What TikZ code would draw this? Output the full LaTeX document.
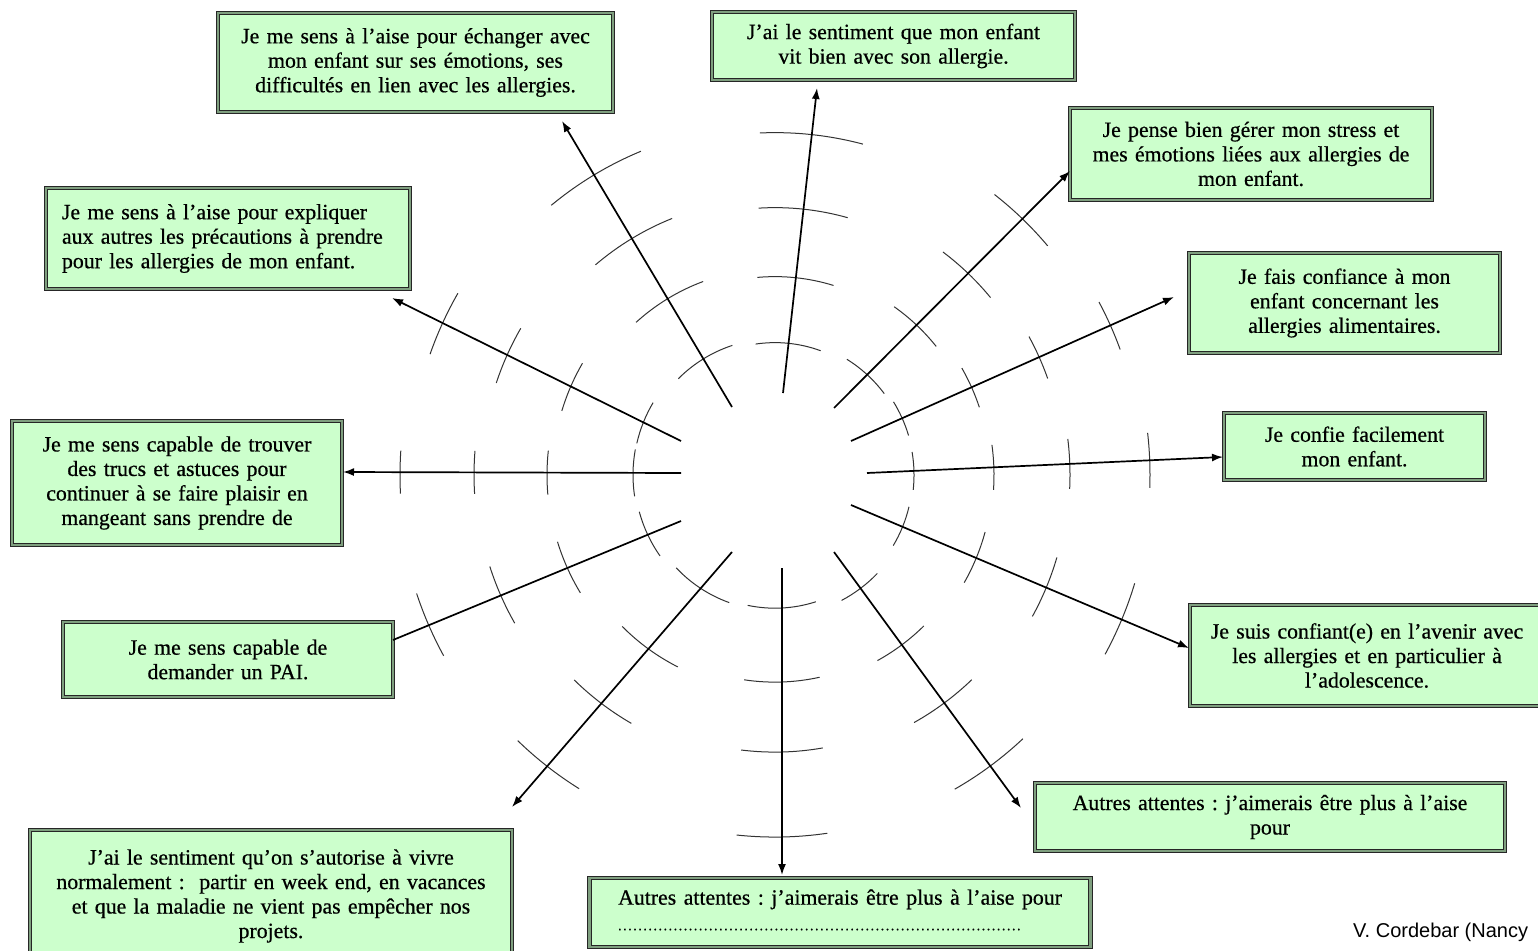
\documentclass[tikz,border=0pt]{standalone}
\usepackage{fontspec}
\setmainfont{Liberation Serif}
\newfontfamily\boxfont{Liberation Serif}[FakeBold=0.6]
\newfontfamily\creditfont{Liberation Sans}
\usetikzlibrary{arrows.meta,calc}
\definecolor{boxfill}{HTML}{CCFFCC}
\definecolor{boxband}{HTML}{7F9F7F}
\tikzset{
  box/.style={draw=black!85, line width=0.9pt, double=boxband, double distance=2.4pt,
    fill=boxfill, inner sep=0pt, align=center, font=\boxfont\fontsize{21.8}{24.5}\selectfont},
  spoke/.style={line width=1.7pt, -{Latex[length=11pt,width=8pt]}},
  plainspoke/.style={line width=1.7pt},
  tickline/.style={line width=1pt, black!80},
}
\frenchspacing
% ticks: arcs centred on the hub (775,475), crossing the spoke sx,sy -> ex,ey
\newcommand\hubticks[5]{%
  \foreach \tD/\tL in {#5}{%
    \pgfmathsetmacro\tLen{veclen(#3-#1,#4-#2)}%
    \pgfmathsetmacro\tX{#1+(#3-#1)/\tLen*\tD}%
    \pgfmathsetmacro\tY{#2+(#4-#2)/\tLen*\tD}%
    \pgfmathsetmacro\tR{veclen(\tX-775,\tY-475)}%
    \pgfmathsetmacro\tTh{atan2(\tY-475,\tX-775)}%
    \pgfmathsetmacro\tDl{deg(\tL/2/\tR)}%
    \pgfmathsetmacro\tSa{\tDl-(\tTh)}%
    \pgfmathsetmacro\tEa{0-(\tTh)-\tDl}%
    \draw[tickline] ([shift={(\tSa:\tR pt)}]775,475) arc[start angle=\tSa, end angle=\tEa, radius=\tR pt];
  }%
}
\begin{document}
\begin{tikzpicture}[x=1pt,y=-1pt]
\useasboundingbox (0,0) rectangle (1538,950);
\clip (0,0) rectangle (1538,950);
\fill[white] (0,0) rectangle (1538,950);

% boxes
\node[box, minimum width=395pt, minimum height=99pt, text width=385pt] (b1) at (415.5,62.5)
  {Je me sens à l’aise pour échanger avec\\ mon enfant sur ses émotions, ses\\ difficultés en lien avec les allergies.};
\node[box, minimum width=363pt, minimum height=68pt, text width=353pt] (b2) at (893.5,46)
  {J’ai le sentiment que mon enfant\\ vit bien avec son allergie.};
\node[box, minimum width=362pt, minimum height=92pt, text width=352pt] (b3) at (1251,154)
  {Je pense bien gérer mon stress et\\ mes émotions liées aux allergies de\\ mon enfant.};
\node[box, minimum width=311pt, minimum height=100pt, text width=301pt] (b4) at (1344.5,303)
  {Je fais confiance à mon\\ enfant concernant les\\ allergies alimentaires.};
\node[box, minimum width=261pt, minimum height=67pt, text width=251pt] (b5) at (1354.5,446.5)
  {Je confie facilement\\ mon enfant.};
\node[box, minimum width=354pt, minimum height=101pt, text width=344pt] (b6) at (1367,655.5)
  {Je suis confiant(e) en l’avenir avec\\ les allergies et en particulier à\\ l’adolescence.};
\node[box, minimum width=470pt, minimum height=68pt, text width=460pt] (b7) at (1270,817)
  {Autres attentes : j’aimerais être plus à l’aise\\ pour};
\node[box, minimum width=501pt, minimum height=69pt] (b8) at (840,912.5)
  {\begin{tabular}{@{}l@{}}\spaceskip=7.5pt Autres attentes : j’aimerais être plus à l’aise pour\\[1pt]
   {\fontsize{14}{16}\selectfont\foreach \k in {1,...,80}{.\hspace{1.55pt}}}\end{tabular}};
\node[box, minimum width=482pt, minimum height=132pt, text width=472pt] (b9) at (271,896)
  {J’ai le sentiment qu’on s’autorise à vivre\\ normalement :\ \ partir en week end, en vacances\\ et que la maladie ne vient pas empêcher nos\\ projets.};
\node[box, minimum width=330pt, minimum height=75pt, text width=320pt] (b10) at (228,659.5)
  {Je me sens capable de\\ demander un PAI.};
\node[box, minimum width=330pt, minimum height=124pt, text width=320pt] (b11) at (177,483)
  {Je me sens capable de trouver\\ des trucs et astuces pour\\ continuer à se faire plaisir en\\ mangeant sans prendre de};
\node[box, minimum width=364pt, minimum height=101pt, text width=332pt, align=left] (b12) at (228,238.5)
  {Je me sens à l’aise pour expliquer\\ aux autres les précautions à prendre\\ pour les allergies de mon enfant.};

% spoke end points
\coordinate (s1) at (732,407);  \coordinate (e1) at (562,121);
\coordinate (s2) at (783,393);  \coordinate (e2) at (817,88);
\coordinate (s3) at (834,408);  \coordinate (e3) at (1070,171);
\coordinate (s4) at (851,441);  \coordinate (e4) at (1174,297);
\coordinate (s5) at (867,473);  \coordinate (e5) at (1223,457);
\coordinate (s6) at (851,505);  \coordinate (e6) at (1189,648);
\coordinate (s7) at (834,552);  \coordinate (e7) at (1021,808);
\coordinate (s8) at (782,568);  \coordinate (e8) at (782,875);
\coordinate (s9) at (732,552);  \coordinate (e9) at (512,807);
\coordinate (s10) at (681,521); \coordinate (e10) at (393,640);
\coordinate (s11) at (681,473); \coordinate (e11) at (343,472);
\coordinate (s12) at (681,441); \coordinate (e12) at (392,298);

% ticks
\hubticks{732}{407}{562}{121}{56/64,126/79,196/90,270/105}
\hubticks{783}{393}{817}{88}{50/66,116/77,185/90,260/104}
\hubticks{834}{408}{1070}{171}{47/51,117/58,190/66,267/74}
\hubticks{851}{441}{1174}{297}{56/37,132/43,206/46,284/52}
\hubticks{867}{473}{1223}{457}{47/38,127/45,203/50,283/55}
\hubticks{851}{505}{1189}{648}{56/42,136/55,212/64,294/77}
\hubticks{834}{552}{1021}{808}{45/45,115/58,187/72,265/85}
\hubticks{782}{568}{782}{875}{40/69,114/76,184/82,269/91}
\hubticks{732}{552}{512}{807}{48/64,128/69,200/72,283/78}
\hubticks{681}{521}{393}{640}{36/49,123/56,195/62,273/68}
\hubticks{681}{473}{343}{472}{48/47,134/44,207/43,281/43}
\hubticks{681}{441}{392}{298}{42/44,123/52,194/60,266/67}

% spokes
\draw[spoke] (s1) -- (e1);
\draw[spoke] (s2) -- (e2);
\draw[spoke] (s3) -- (e3);
\draw[spoke] (s4) -- (e4);
\draw[spoke] (s5) -- (e5);
\draw[spoke] (s6) -- (e6);
\draw[spoke] (s7) -- (e7);
\draw[spoke] (s8) -- (e8);
\draw[spoke] (s9) -- (e9);
\draw[plainspoke] (s10) -- (e10);
\draw[spoke] (s11) -- (e11);
\draw[spoke] (s12) -- (e12);

\node[anchor=base west, inner sep=0pt, font=\creditfont\fontsize{20}{22}\selectfont] (credit) at (1353,937) {V. Cordebar (Nancy};
\end{tikzpicture}
\end{document}
